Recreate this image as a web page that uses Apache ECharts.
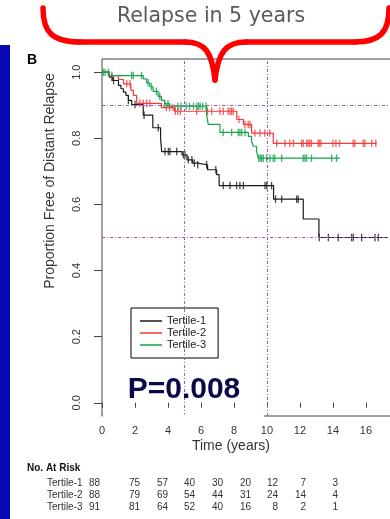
<!DOCTYPE html>
<html>
<head>
<meta charset="utf-8">
<script src="https://cdn.jsdelivr.net/npm/echarts@6/dist/echarts.min.js"></script>
<style>
html,body{margin:0;padding:0;background:#fff;}
#chart{width:390px;height:519px;}
</style>
</head>
<body>
<div id="chart"></div>
<script>
// ---- Data ----
const seriesNames = ['Tertile-1', 'Tertile-2', 'Tertile-3'];

const t1Times = [0, 0.45, 0.65, 1.0, 1.15, 1.3, 1.45, 1.6, 1.8, 2.5, 3.08, 3.55, 3.62, 4.85, 5.15, 5.5, 5.75, 6.4, 6.95, 7.1, 10.4, 12.2, 13.15, 17.35];
const t1Surv  = [1, 0.985, 0.975, 0.96, 0.95, 0.94, 0.93, 0.915, 0.902, 0.87, 0.832, 0.80, 0.76, 0.75, 0.735, 0.725, 0.72, 0.705, 0.69, 0.657, 0.616, 0.556, 0.5, 0.5];
const t1Censor = [0.6, 0.7, 1.6, 2.0, 2.55, 3.41, 3.82, 4.02, 4.12, 4.53, 4.93, 5.03, 5.23, 5.45, 5.6, 5.8, 6.34, 6.9, 7.35, 7.76, 8.16, 8.36, 8.57, 9.88, 9.98, 10.28, 10.52, 10.89, 11.8, 11.9, 13.17, 13.72, 14.32, 15.13, 15.23, 15.74, 16.55, 16.75];

const t2Times = [0, 0.4, 1.0, 1.3, 1.75, 1.9, 2.1, 3.6, 4.4, 8.17, 8.57, 9.07, 10.38, 16.65];
const t2Surv  = [1, 0.99, 0.978, 0.965, 0.945, 0.93, 0.906, 0.893, 0.882, 0.857, 0.842, 0.816, 0.785, 0.785];
const t2Censor = [0.6, 1.5, 1.7, 2.3, 2.5, 2.7, 2.9, 3.9, 4.1, 4.3, 4.45, 4.6, 4.75, 5.74, 6.4, 6.65, 7.15, 7.35, 7.65, 7.76, 7.86, 7.96, 8.3, 8.66, 8.86, 8.97, 9.27, 9.57, 9.87, 10.17, 10.59, 11.09, 11.39, 11.6, 12.1, 12.2, 12.4, 12.5, 12.6, 12.7, 13.1, 13.17, 13.27, 14.0, 14.18, 14.4, 15.23, 15.33, 15.84, 15.94, 16.35, 16.6];

const t3Times = [0, 0.45, 2.5, 2.7, 2.9, 3.1, 3.4, 3.6, 3.8, 4.1, 6.34, 6.44, 7.15, 8.87, 9.07, 9.17, 9.37, 9.47, 14.42];
const t3Surv  = [1, 0.99, 0.98, 0.968, 0.956, 0.942, 0.927, 0.915, 0.905, 0.897, 0.872, 0.842, 0.818, 0.806, 0.791, 0.776, 0.76, 0.74, 0.74];
const t3Censor = [0.08, 0.18, 0.38, 1.8, 1.9, 2.4, 2.8, 3.0, 3.3, 3.5, 3.8, 4.0, 4.6, 4.8, 5.1, 5.3, 5.55, 5.75, 5.85, 5.95, 6.1, 6.3, 7.35, 7.86, 8.26, 8.36, 8.47, 8.67, 9.5, 9.6, 9.68, 9.78, 9.98, 10.18, 10.38, 10.48, 10.89, 12.2, 12.3, 12.4, 12.7, 13.92, 14.22];

const xTicks = [0, 2, 4, 6, 8, 10, 12, 14, 16];
const yTicks = [0, 0.2, 0.4, 0.6, 0.8, 1.0];
const refYears = [5, 10];
const refSurv = [0.9, 0.5];

const riskTitle = 'No. At Risk';
const riskLabels = ['Tertile-1', 'Tertile-2', 'Tertile-3'];
const riskT1 = [88, 75, 57, 40, 30, 20, 12, 7, 3];
const riskT2 = [88, 79, 69, 54, 44, 31, 24, 14, 4];
const riskT3 = [91, 81, 64, 52, 40, 16, 8, 2, 1];

const headerText = 'Relapse in 5 years';
const panelLabel = 'B';
const pValueText = 'P=0.008';
const xTitle = 'Time (years)';
const yTitle = 'Proportion Free of Distant Relapse';

// ---- Build ----
const colors = ['#1a1a1a', '#f23a3a', '#16a34c'];
function pairs(ts, ss) { return ts.map((t, i) => [t, ss[i]]); }
function survAt(ts, ss, t) {
  let v = ss[0];
  for (let i = 0; i < ts.length; i++) { if (ts[i] <= t) v = ss[i]; }
  return v;
}
const groups = [
  [t1Times, t1Surv, t1Censor],
  [t2Times, t2Surv, t2Censor],
  [t3Times, t3Surv, t3Censor]
];
const series = [];
groups.forEach((g, k) => {
  series.push({
    name: seriesNames[k], type: 'line', step: 'end', symbol: 'none',
    data: pairs(g[0], g[1]), color: colors[k],
    lineStyle: { width: 1.2, color: colors[k] }, z: 3 + k,
    animation: false
  });
});
groups.forEach((g, k) => {
  series.push({
    name: 'censor' + (k + 1), type: 'scatter', symbol: 'rect', symbolSize: [1.3, 7.5],
    data: g[2].map(t => [t, survAt(g[0], g[1], t)]),
    itemStyle: { color: colors[k] }, z: 3 + k, animation: false, silent: true
  });
});
// reference lines
series.push({
  name: 'ref', type: 'line', data: [], animation: false, silent: true,
  markLine: {
    silent: true, symbol: 'none', animation: false,
    label: { show: false },
    lineStyle: { color: '#9a55c6', type: [3, 2, 1, 2], width: 1 },
    data: refSurv.map(v => ({ yAxis: v })).concat(refYears.map(v => ({ xAxis: v })))
  }
});

// risk table graphic texts
const riskCols = [140, 168, 195, 223, 251, 278, 306, 338];
const riskRowsY = [483, 495, 507];
const riskData = [riskT1, riskT2, riskT3];
const tableFont = 'Liberation Sans, Arial, sans-serif';
const graphics = [
  { type: 'rect', left: 0, top: 45, shape: { width: 10, height: 474 }, style: { fill: '#0808b4' }, z: 10 },
  { type: 'text', x: 211, y: 17, style: { text: headerText, fontSize: 20.5, fontFamily: 'DejaVu Sans, sans-serif', fill: '#5a5a5a', align: 'center', verticalAlign: 'middle' }, z: 10 },
  { type: 'text', x: 32, y: 60, style: { text: panelLabel, fontSize: 14, fontWeight: 'bold', fontFamily: tableFont, fill: '#000', align: 'center', verticalAlign: 'middle' }, z: 10 },
  { type: 'text', x: 50, y: 181, rotation: Math.PI / 2, style: { text: yTitle, fontSize: 14, fontFamily: tableFont, fill: '#333', align: 'center', verticalAlign: 'middle' }, z: 10 },
  { type: 'text', x: 231, y: 446, style: { text: xTitle, fontSize: 14, fontFamily: tableFont, fill: '#333', align: 'center', verticalAlign: 'middle' }, z: 10 },
  { type: 'text', x: 184, y: 390, style: { text: pValueText, fontSize: 30, fontWeight: 'bold', fontFamily: tableFont, fill: '#0a0a4a', align: 'center', verticalAlign: 'middle' }, z: 10 },
  { type: 'rect', shape: { x: 103, y: 414.5, width: 161, height: 3 }, style: { fill: '#fff' }, z: 20 },
  { type: 'text', x: 27, y: 468, style: { text: riskTitle, fontSize: 10, fontWeight: 'bold', fontFamily: tableFont, fill: '#111', align: 'left', verticalAlign: 'middle' }, z: 10 }
];
// brace
const brace = [
  { type: 'bezierCurve', shape: { x1: 43, y1: 8, cpx1: 43, cpy1: 32, cpx2: 52, cpy2: 42, x2: 80, y2: 42 } },
  { type: 'line', shape: { x1: 80, y1: 42, x2: 185, y2: 42 } },
  { type: 'bezierCurve', shape: { x1: 185, y1: 42, cpx1: 205, cpy1: 42, cpx2: 212, cpy2: 52, x2: 215, y2: 80 } },
  { type: 'bezierCurve', shape: { x1: 215, y1: 80, cpx1: 218, cpy1: 52, cpx2: 226, cpy2: 42, x2: 246, y2: 42 } },
  { type: 'line', shape: { x1: 246, y1: 42, x2: 355, y2: 42 } },
  { type: 'bezierCurve', shape: { x1: 355, y1: 42, cpx1: 380, cpy1: 42, cpx2: 389, cpy2: 32, x2: 389, y2: 8 } }
];
brace.forEach(b => {
  b.style = { stroke: '#ff0000', lineWidth: 5.5, fill: null, lineCap: 'round' };
  b.z = 30;
  graphics.push(b);
});
riskLabels.forEach((lab, r) => {
  graphics.push({ type: 'text', x: 47, y: riskRowsY[r], style: { text: lab, fontSize: 10, fontFamily: tableFont, fill: '#333', align: 'left', verticalAlign: 'middle' }, z: 10 });
  graphics.push({ type: 'text', x: 100, y: riskRowsY[r], style: { text: String(riskData[r][0]), fontSize: 10, fontFamily: tableFont, fill: '#333', align: 'right', verticalAlign: 'middle' }, z: 10 });
  riskData[r].slice(1).forEach((v, c) => {
    graphics.push({ type: 'text', x: riskCols[c], y: riskRowsY[r], style: { text: String(v), fontSize: 10, fontFamily: tableFont, fill: '#333', align: 'right', verticalAlign: 'middle' }, z: 10 });
  });
});

const chart = echarts.init(document.getElementById('chart'), null, { renderer: 'canvas' });
chart.setOption({
  animation: false,
  backgroundColor: '#fff',
  grid: { left: 102, top: 59, right: -1, bottom: 103, show: true, borderColor: '#444', borderWidth: 1, containLabel: false, outerBoundsMode: 'none' },
  xAxis: {
    type: 'value', min: 0, max: 17.52,
    axisLine: { show: false },
    axisTick: { show: true, customValues: xTicks, length: 5, lineStyle: { color: '#444' } },
    axisLabel: { customValues: xTicks, fontSize: 11, color: '#333', margin: 9, fontFamily: tableFont },
    splitLine: { show: false }
  },
  yAxis: {
    type: 'value', min: -0.04, max: 1.04,
    axisLine: { show: false },
    axisTick: { show: true, customValues: yTicks, length: 8, lineStyle: { color: '#444' } },
    axisLabel: { customValues: yTicks, rotate: 90, fontSize: 11, color: '#333', margin: 20, fontFamily: tableFont, formatter: v => v.toFixed(1) },
    splitLine: { show: false }
  },
  legend: {
    data: seriesNames, orient: 'vertical', left: 131, top: 308,
    icon: 'rect', itemWidth: 22, itemHeight: 1.5, itemGap: 0,
    padding: [7, 12, 7, 9], borderColor: '#000', borderWidth: 1, backgroundColor: '#fff',
    textStyle: { fontSize: 11, color: '#222', lineHeight: 12, fontFamily: tableFont },
    selectedMode: false
  },
  graphic: graphics,
  series: series
});
</script>
</body>
</html>
